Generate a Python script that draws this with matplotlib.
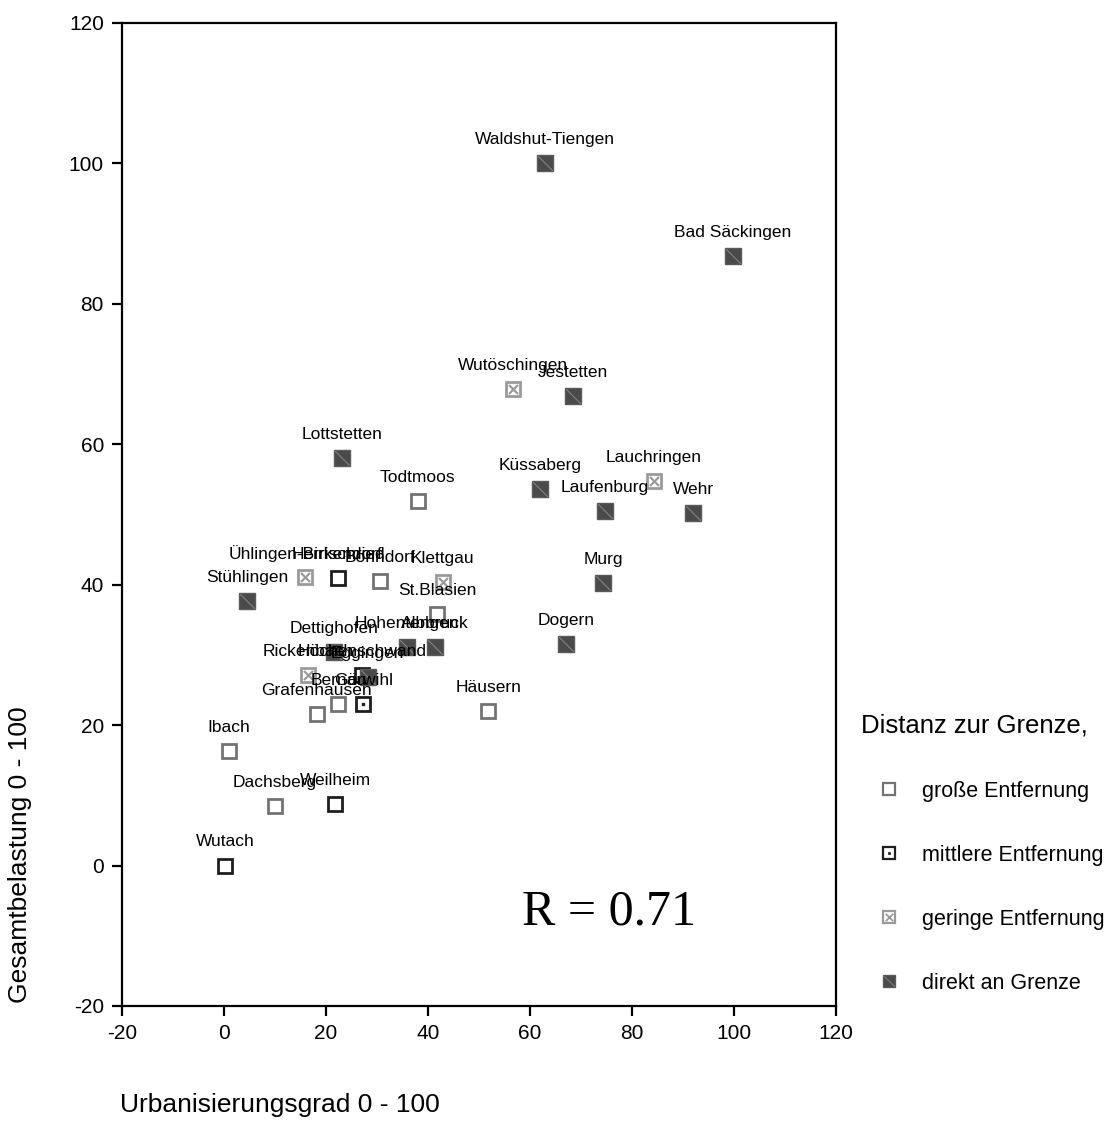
import matplotlib.pyplot as plt
from matplotlib.path import Path
from matplotlib.lines import Line2D
from matplotlib.legend_handler import HandlerTuple

plt.rcParams['font.family'] = ['Liberation Sans', 'DejaVu Sans']
plt.rcParams['axes.unicode_minus'] = False

# Gemeinden: Urbanisierungsgrad (x), Gesamtbelastung (y), Distanz zur Grenze
names = ["Waldshut-Tiengen", "Bad Säckingen", "Wutöschingen", "Jestetten", "Lottstetten",
         "Todtmoos", "Küssaberg", "Lauchringen", "Laufenburg", "Wehr", "Murg", "Dogern",
         "Häusern", "Stühlingen", "Ühlingen-Birkendorf", "Herrischried", "Bonndorf",
         "Klettgau", "St.Blasien", "Hohentengen", "Albbruck", "Dettighofen", "Rickenbach",
         "Höchenschwand", "Eggingen", "Görwihl", "Bernau", "Grafenhausen", "Ibach",
         "Dachsberg", "Weilheim", "Wutach"]
urban = [62.9, 99.8, 56.7, 68.4, 23.1,
         38.0, 62.0, 84.3, 74.7, 92.0, 74.3, 67.1,
         51.8, 4.5, 15.9, 22.4, 30.6,
         42.9, 41.8, 35.9, 41.4, 21.6, 16.5,
         27.1, 28.2, 27.3, 22.4, 18.2, 1.0,
         10.0, 21.8, 0.2]
belastung = [100.0, 86.8, 67.9, 66.9, 58.0,
             51.9, 53.6, 54.8, 50.5, 50.2, 40.2, 31.5,
             22.0, 37.7, 41.1, 41.0, 40.5,
             40.4, 35.8, 31.1, 31.1, 30.4, 27.1,
             27.1, 26.9, 23.0, 23.0, 21.6, 16.3,
             8.5, 8.8, 0.0]
distanz = ["direkt", "direkt", "geringe", "direkt", "direkt",
           "gross", "direkt", "geringe", "direkt", "direkt", "direkt", "direkt",
           "gross", "direkt", "geringe", "mittlere", "gross",
           "geringe", "gross", "direkt", "direkt", "direkt", "geringe",
           "mittlere", "direkt", "mittlere", "gross", "gross", "gross",
           "gross", "mittlere", "mittlere"]
punkt_mitte = ["Görwihl"]

categories = ["gross", "mittlere", "geringe", "direkt"]
cat_labels = ["große Entfernung", "mittlere Entfernung", "geringe Entfernung", "direkt an Grenze"]

x_path = Path([(-1, -1), (1, 1), (-1, 1), (1, -1)],
              [Path.MOVETO, Path.LINETO, Path.MOVETO, Path.LINETO])
diag_path = Path([(-1, 1), (1, -1)], [Path.MOVETO, Path.LINETO])


def marker_handles(cat, ms, mew):
    if cat == "gross":
        return (Line2D([], [], ls='none', marker='s', ms=ms, mfc='white', mec='#737373', mew=mew),)
    if cat == "mittlere":
        return (Line2D([], [], ls='none', marker='s', ms=ms, mfc='white', mec='#1e1e1e', mew=mew),
                Line2D([], [], ls='none', marker='s', ms=1.8, mfc='#1e1e1e', mec='#1e1e1e', mew=0.5))
    if cat == "geringe":
        return (Line2D([], [], ls='none', marker='s', ms=ms, mfc='white', mec='#9a9a9a', mew=mew),
                Line2D([], [], ls='none', marker=x_path, ms=ms * 0.6, mfc='none', mec='#9a9a9a', mew=mew * 0.8))
    return (Line2D([], [], ls='none', marker='s', ms=ms, mfc='#4a4a4a', mec='#5a5a5a', mew=mew * 0.6),
            Line2D([], [], ls='none', marker=diag_path, ms=ms * 0.85, mfc='none', mec='#8a8a8a', mew=0.6))


fig = plt.figure(figsize=(11.16, 11.33), dpi=100)
ax = fig.add_axes([0.1093, 0.1121, 0.6398, 0.8676])

ms = 10.5
for cat in categories:
    xs = [x for x, c in zip(urban, distanz) if c == cat]
    ys = [y for y, c in zip(belastung, distanz) if c == cat]
    if cat == "gross":
        ax.plot(xs, ys, ls='none', marker='s', ms=ms, mfc='white', mec='#737373', mew=2, zorder=3)
    elif cat == "mittlere":
        ax.plot(xs, ys, ls='none', marker='s', ms=ms, mfc='white', mec='#1e1e1e', mew=2, zorder=3)
        xd = [x for x, n in zip(urban, names) if n in punkt_mitte]
        yd = [y for y, n in zip(belastung, names) if n in punkt_mitte]
        ax.plot(xd, yd, ls='none', marker='s', ms=2, mfc='#1e1e1e', mec='#1e1e1e', zorder=4)
    elif cat == "geringe":
        ax.plot(xs, ys, ls='none', marker='s', ms=ms, mfc='white', mec='#9a9a9a', mew=2, zorder=3)
        ax.plot(xs, ys, ls='none', marker=x_path, ms=ms * 0.62, mfc='none', mec='#9a9a9a', mew=1.6, zorder=4)
    else:
        ax.plot(xs, ys, ls='none', marker='s', ms=ms + 1, mfc='#4a4a4a', mec='#5a5a5a', mew=1, zorder=3)
        ax.plot(xs, ys, ls='none', marker=diag_path, ms=ms, mfc='none', mec='#8a8a8a', mew=0.7, zorder=4)

for n, x, y in zip(names, urban, belastung):
    ax.annotate(n, (x, y), xytext=(0, 17), textcoords='offset points',
                ha='center', va='center', fontsize=12.5, color='black', zorder=5)

ax.text(75.5, -8.4, "R = 0.71", fontsize=36, family='Liberation Serif',
        ha='center', va='baseline')

ax.set_xlim(-20, 120)
ax.set_ylim(-20, 120)
ax.set_xticks(range(-20, 121, 20))
ax.set_yticks(range(-20, 121, 20))
ax.tick_params(direction='out', length=7, width=1.6, labelsize=15, pad=6)
for sp in ax.spines.values():
    sp.set_linewidth(1.6)

fig.text(120 / 1116, 1 - 1105 / 1133, "Urbanisierungsgrad 0 - 100", fontsize=19,
         ha='left', va='center')
fig.text(20 / 1116, 1 - 855 / 1133, "Gesamtbelastung 0 - 100", fontsize=19,
         rotation=90, ha='center', va='center')

handles = [marker_handles(c, 9, 1.6) for c in categories]
leg = fig.legend(handles, cat_labels, loc='upper left',
                 bbox_to_anchor=(852 / 1116, 1 - 705 / 1133),
                 title="Distanz zur Grenze,", title_fontsize=18.5, fontsize=15.5,
                 frameon=False, labelspacing=2.0, handletextpad=0.25, handlelength=2.6,
                 borderaxespad=0, handler_map={tuple: HandlerTuple(ndivide=1, pad=0)})
leg._legend_box.align = "left"

fig.savefig("out.png", dpi=100)
